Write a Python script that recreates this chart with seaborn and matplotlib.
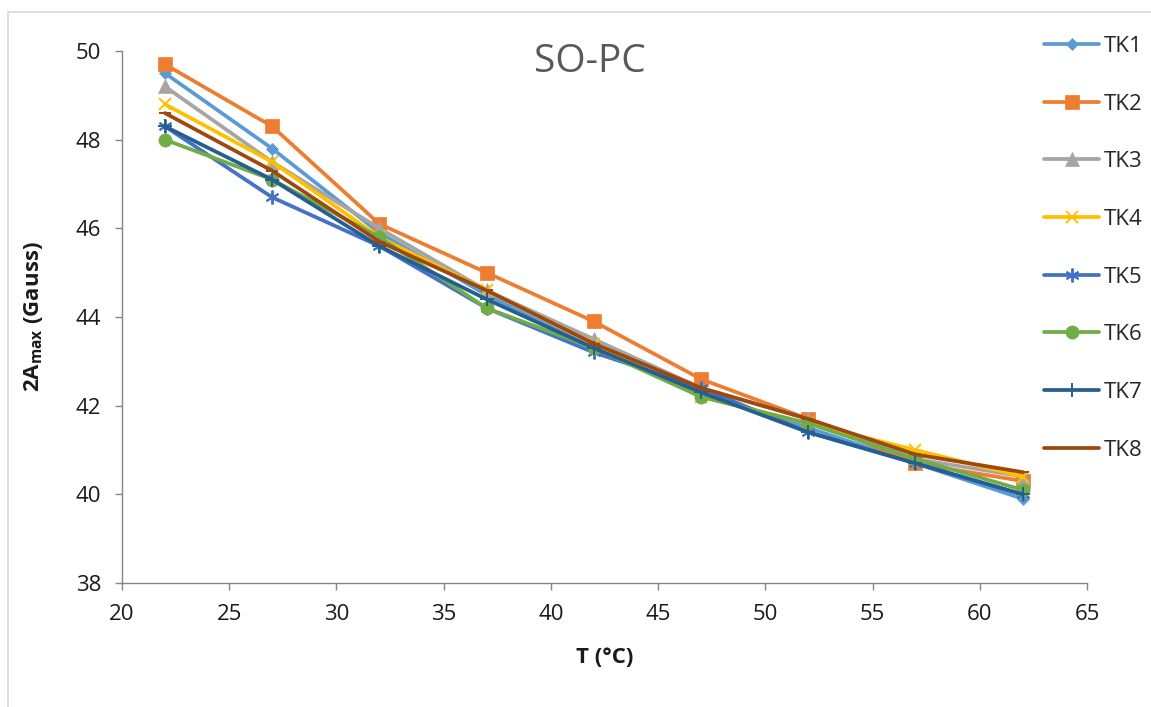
import matplotlib
matplotlib.use("Agg")
import matplotlib.pyplot as plt
import seaborn as sns
import pandas as pd
from matplotlib.patches import Rectangle

# Temperature (°C)
temperature = [22, 27, 32, 37, 42, 47, 52, 57, 62]

# 2Amax (Gauss) for each sample
tk1 = [49.5, 47.8, 45.9, 44.5, 43.3, 42.3, 41.5, 40.7, 39.9]
tk2 = [49.7, 48.3, 46.1, 45.0, 43.9, 42.6, 41.7, 40.7, 40.3]
tk3 = [49.2, 47.5, 46.0, 44.6, 43.5, 42.4, 41.7, 40.8, 40.4]
tk4 = [48.8, 47.5, 45.8, 44.6, 43.4, 42.2, 41.6, 41.0, 40.4]
tk5 = [48.3, 46.7, 45.6, 44.2, 43.2, 42.4, 41.4, 40.7, 40.0]
tk6 = [48.0, 47.1, 45.8, 44.2, 43.3, 42.2, 41.6, 40.8, 40.1]
tk7 = [48.3, 47.1, 45.6, 44.4, 43.3, 42.3, 41.4, 40.7, 40.0]
tk8 = [48.6, 47.3, 45.7, 44.6, 43.4, 42.4, 41.7, 40.9, 40.5]

series_names = ["TK1", "TK2", "TK3", "TK4", "TK5", "TK6", "TK7", "TK8"]
series_values = [tk1, tk2, tk3, tk4, tk5, tk6, tk7, tk8]

x_ticks = [20, 25, 30, 35, 40, 45, 50, 55, 60, 65]
y_ticks = [38, 40, 42, 44, 46, 48, 50]

df = pd.DataFrame(
    [(name, t, v) for name, vals in zip(series_names, series_values)
     for t, v in zip(temperature, vals)],
    columns=["sample", "T", "A"],
)

colors = ["#5B9BD5", "#ED7D31", "#A5A5A5", "#FFC000",
          "#4472C4", "#70AD47", "#255E91", "#9E480E"]
markers = ["D", "s", "^", "x", (6, 2, 0), "o", "+", "_"]
msizes = [6.6, 9.5, 9.5, 9.0, 10.0, 9.5, 10.0, 9.0]
filled = [True, True, True, False, False, True, False, False]

sns.set_theme(style="white")
plt.rcParams["font.family"] = ["Open Sans", "DejaVu Sans"]
plt.rcParams["mathtext.fontset"] = "custom"
plt.rcParams["mathtext.rm"] = "Open Sans"

fig = plt.figure(figsize=(11.51, 7.07), dpi=100)
ax = fig.add_axes([122 / 1151, 1 - 583 / 707, (1087 - 122) / 1151, (583 - 51) / 707])

for i, name in enumerate(series_names):
    sub = df[df["sample"] == name]
    kw = dict(marker=markers[i], markersize=msizes[i], color=colors[i],
              linewidth=2.7, label=name)
    if filled[i]:
        kw.update(markeredgecolor=colors[i], markerfacecolor=colors[i], markeredgewidth=0.5)
    else:
        kw.update(markeredgecolor=colors[i], markeredgewidth=1.4)
    sns.lineplot(data=sub, x="T", y="A", ax=ax, legend=False, **kw)

ax.set_xlim(20, 65)
ax.set_ylim(38, 50)
ax.set_xticks(x_ticks)
ax.set_yticks(y_ticks)
ax.tick_params(axis="both", labelsize=16, colors="#868686", labelcolor="#1a1a1a",
               direction="out", length=5, width=1.0, bottom=True, left=True, pad=10)
for side in ["top", "right"]:
    ax.spines[side].set_visible(False)
for side in ["left", "bottom"]:
    ax.spines[side].set_color("#868686")
    ax.spines[side].set_linewidth(1.0)
ax.grid(False)

ax.set_xlabel("T (°C)", fontsize=16, fontweight="bold", color="#1a1a1a", labelpad=16)
ax.set_ylabel(r"2A$_{\mathregular{max}}$ (Gauss)", fontsize=16, fontweight="bold",
              color="#1a1a1a", labelpad=22)

fig.text(590 / 1151, 1 - 62 / 707, "SO-PC", fontsize=28, color="#595959",
         ha="center", va="center")

handles, labels = ax.get_legend_handles_labels()
fig.legend(handles, labels, loc="upper left", bbox_to_anchor=(1035 / 1151, 1 - 27 / 707),
           frameon=False, fontsize=16, handlelength=2.5, handletextpad=0.2,
           labelspacing=1.65, borderaxespad=0)

# light chart-area frame
fig.patches.append(Rectangle((8 / 1151, -0.05), 1.1, 1 - 12 / 707 + 0.05,
                             transform=fig.transFigure, fill=False,
                             edgecolor="#D9D9D9", linewidth=1.2))

fig.savefig("out.png", dpi=100)
